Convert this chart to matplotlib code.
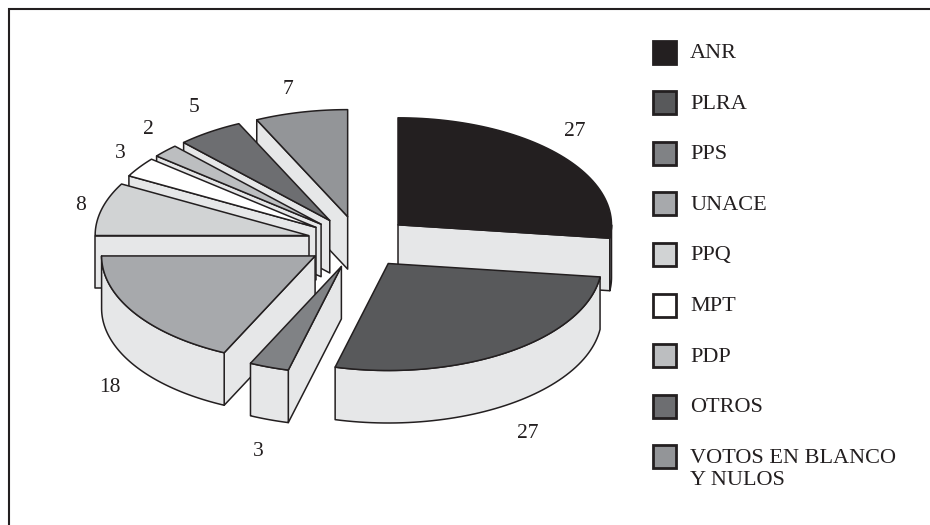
"""Exploded 3D pie of vote shares, drawn as extruded polygons in pixel coordinates."""
import numpy as np
import matplotlib
matplotlib.use("Agg")
import matplotlib.pyplot as plt
from matplotlib.patches import Polygon, Rectangle

parties = ["ANR", "PLRA", "PPS", "UNACE", "PPQ", "MPT", "PDP", "OTROS", "VOTOS EN BLANCO\nY NULOS"]
values = [27, 27, 3, 18, 8, 3, 2, 5, 7]
colors = ["#231f20", "#58595b", "#808285", "#a7a9ac", "#d1d3d4", "#ffffff", "#bcbec0", "#6d6e71", "#939598"]

# text anchors for the value labels, in pixels
label_xy = [(575, 132), (528, 433), (258, 451), (110, 388), (81, 206), (120, 153), (148, 130), (194, 108), (288, 89)]

WALL = "#e6e7e8"
INK = "#231f20"
CX, CY = 359, 242
RX, RY = 213.5, 107
EX, EY = 52, 26
DEPTH = 52.5

plt.rcParams["font.family"] = ["Liberation Serif", "DejaVu Serif"]

fig = plt.figure(figsize=(9.3, 5.25), dpi=100)
ax = fig.add_axes([0, 0, 1, 1])
ax.set_xlim(0, 930)
ax.set_ylim(525, 0)
ax.axis("off")

# the frame is cut off by the page on the right and at the bottom
ax.plot([9, 9, 930], [525, 9, 9], color=INK, lw=1.5, solid_joinstyle="miter")


def draw_face(points, color):
    ax.add_patch(Polygon(points, closed=True, fc=color, ec=INK, lw=1.1, joinstyle="round"))


def arc_points(ax0, ay0, a0, a1, n=60):
    t = np.radians(np.linspace(a0, a1, n))
    return np.column_stack([ax0 + RX * np.sin(t), ay0 - RY * np.cos(t)])


# slice angles run clockwise from 12 o'clock
edges = np.cumsum([0] + values) / sum(values) * 360
mids = (edges[:-1] + edges[1:]) / 2
order = np.argsort(-np.cos(np.radians(mids)))

for i in order:
    a0, a1 = edges[i], edges[i + 1]
    m = np.radians(mids[i])
    px = CX + EX * np.sin(m)
    py = CY - EY * np.cos(m)
    apex = np.array([px, py])
    drop = np.array([0, DEPTH])
    arc = arc_points(px, py, a0, a1)

    # only the radial walls that face the viewer
    if np.sin(np.radians(a0)) < -1e-6:
        draw_face([apex, arc[0], arc[0] + drop, apex + drop], WALL)
    if np.sin(np.radians(a1)) > 1e-6:
        draw_face([apex, arc[-1], arc[-1] + drop, apex + drop], WALL)

    lo, hi = max(a0, 90), min(a1, 270)
    if lo < hi:
        front = arc_points(px, py, lo, hi)
        draw_face(np.vstack([front, (front + drop)[::-1]]), WALL)

    draw_face(np.vstack([apex, arc]), colors[i])

for v, (x, y) in zip(values, label_xy):
    ax.text(x, y, str(v), fontsize=15.5, color=INK, ha="center", va="center")

# legend column
for k, (name, c) in enumerate(zip(parties, colors)):
    yc = 52 + 50.6 * k
    ax.add_patch(Rectangle((652.5, yc - 11.5), 23, 23, fc=c, ec=INK, lw=2))
    ax.text(690, yc - 8, name, fontsize=16, color=INK, ha="left", va="top", linespacing=1.2)

fig.savefig("out.png", dpi=100)
